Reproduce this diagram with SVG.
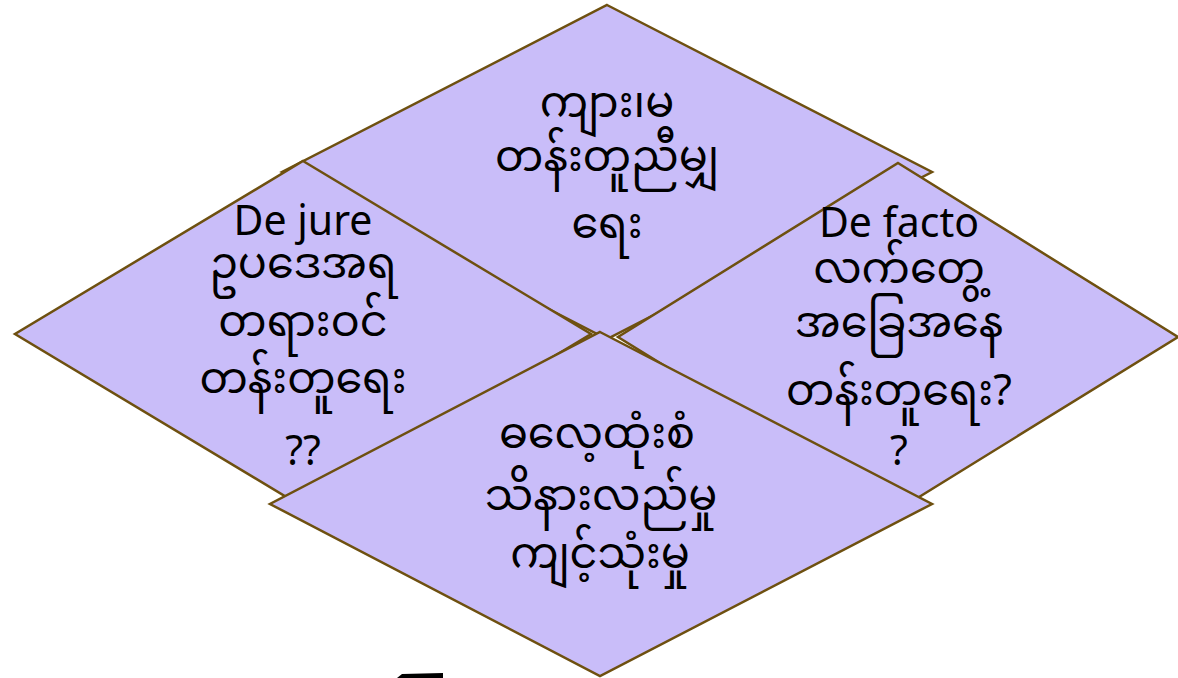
<svg xmlns="http://www.w3.org/2000/svg" width="1178" height="678" viewBox="0 0 1178 678">
<style>
.d{fill:#c9bdf9;stroke:#6e5010;stroke-width:2.5;stroke-linejoin:miter}
.t{font-family:"Noto Sans","Noto Sans Myanmar","Padauk","Myanmar Text",sans-serif;font-size:43px;fill:#000;text-anchor:middle}
.l{font-size:41px}
</style>
<rect width="1178" height="678" fill="#fff"/>
<g id="node-top">
<polygon class="d" points="607,5 932,172 607,339 282,172"/>
<text class="t" x="607" y="117">ကျား၊မ</text>
<text class="t" x="607" y="171">တန်းတူညီမျှ</text>
<text class="t" x="607" y="238">ရေး</text>
</g>
<g id="node-left">
<polygon class="d" points="303,161 591,334 303,507 15,334"/>
<text class="t l" x="303" y="235">De jure</text>
<text class="t" x="303" y="278">ဥပဒေအရ</text>
<text class="t" x="303" y="336">တရားဝင်</text>
<text class="t" x="303" y="393">တန်းတူရေး</text>
<text class="t l" x="303" y="465">??</text>
</g>
<g id="node-right">
<polygon class="d" points="898,163 1178,337 898,510 618,337"/>
<text class="t l" x="899" y="237">De facto</text>
<text class="t" x="899" y="283">လက်တွေ့</text>
<text class="t" x="899" y="337">အခြေအနေ</text>
<text class="t" x="899" y="405">တန်းတူရေး?</text>
<text class="t l" x="899" y="465">?</text>
</g>
<g id="node-bottom">
<polygon class="d" points="600,332 932,504 600,676 270,504"/>
<text class="t" x="597" y="448">ဓလေ့ထုံးစံ</text>
<text class="t" x="601" y="510">သိနားလည်မှု</text>
<text class="t" x="600" y="568">ကျင့်သုံးမှု</text>
</g>
<g id="connectors"></g>
<path d="M397,678 L402,674 L443,673 L443,678 Z" fill="#000"/>
</svg>
